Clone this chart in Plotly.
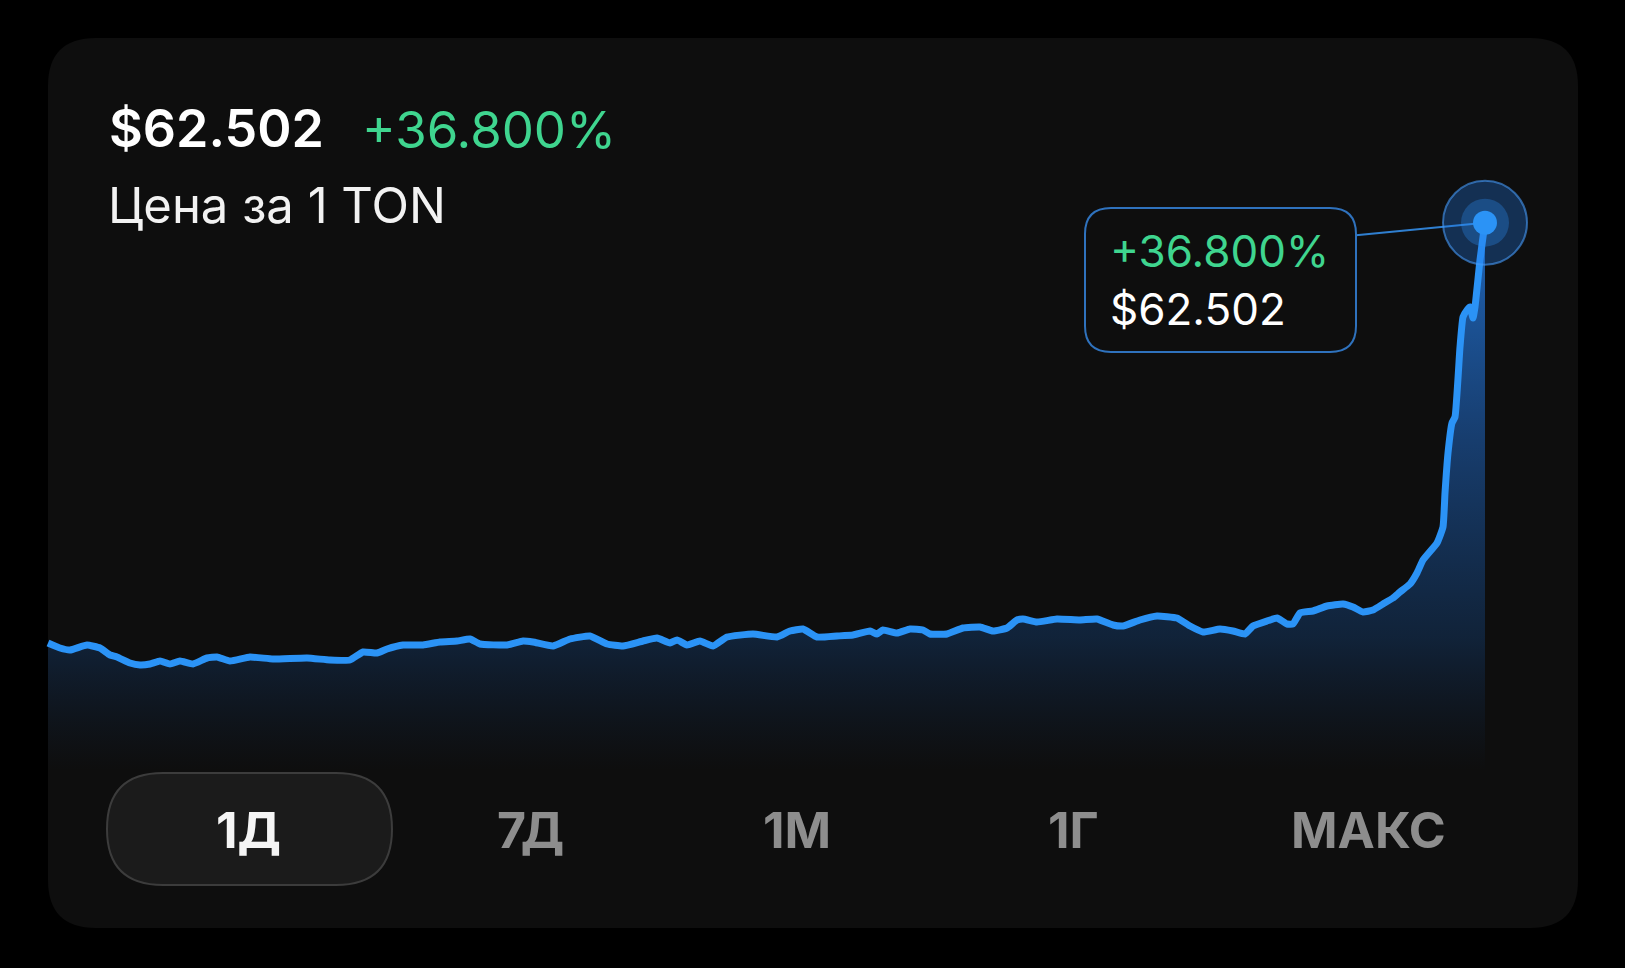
import plotly.graph_objects as go

# minutes since the start of the 1-day window, and TON price in USD
minutes = [0, 12, 22, 39, 52, 62, 69, 82, 92, 102, 112, 122, 132, 145, 159, 169, 182,
           202, 225, 259, 282, 302, 315, 329, 339, 355, 375, 392, 409, 422, 432, 459,
           475, 485, 505, 522, 542, 559, 575, 595, 609, 622, 629, 639, 652, 665, 679,
           705, 729, 742, 755, 769, 789, 805, 822, 829, 835, 849, 862, 875, 882, 899,
           915, 932, 945, 959, 969, 975, 989, 1009, 1032, 1049, 1065, 1075, 1092, 1109,
           1129, 1142, 1155, 1172, 1185, 1197, 1205, 1219, 1229, 1239, 1245, 1252, 1265,
           1279, 1295, 1305, 1315, 1325, 1335, 1345, 1352, 1362, 1369, 1375, 1389, 1395,
           1397, 1400, 1404, 1407, 1412, 1415, 1419, 1422, 1425, 1427, 1432, 1435, 1437]
prices = [45.69, 45.49, 45.41, 45.61, 45.49, 45.21, 45.13, 44.89, 44.81, 44.85, 44.97,
          44.85, 44.97, 44.85, 45.09, 45.13, 44.97, 45.13, 45.05, 45.09, 45.01, 45.01,
          45.33, 45.29, 45.45, 45.61, 45.61, 45.73, 45.77, 45.85, 45.65, 45.61, 45.77,
          45.73, 45.57, 45.85, 45.97, 45.65, 45.57, 45.77, 45.89, 45.69, 45.81, 45.61,
          45.77, 45.57, 45.93, 46.05, 45.93, 46.17, 46.25, 45.93, 45.97, 46.01, 46.17,
          46.05, 46.21, 46.09, 46.25, 46.21, 46.05, 46.05, 46.29, 46.33, 46.17, 46.29,
          46.61, 46.65, 46.53, 46.65, 46.61, 46.65, 46.41, 46.37, 46.61, 46.77, 46.69,
          46.37, 46.13, 46.25, 46.17, 46.05, 46.37, 46.57, 46.69, 46.45, 46.45, 46.89,
          46.97, 47.17, 47.25, 47.13, 46.93, 47.01, 47.25, 47.49, 47.73, 48.05, 48.49,
          49.01, 49.69, 50.33, 51.69, 53.29, 54.49, 54.73, 57.53, 58.73, 59.01, 59.13,
          58.69, 59.13, 61.01, 61.93, 62.502]

price_label = "$62.502"
change_label = "+36.800%"
subtitle = "Цена за 1 TON"
periods = ["1Д", "7Д", "1М", "1Г", "МАКС"]
selected = "1Д"

W, H = 1625, 968
GREEN = "#3fd58f"
BLUE = "#2b93f6"
FONT = "Inter"


def px(x):
    return x / W


def py(y):
    return 1 - y / H


def rounded_rect(x0, y0, x1, y1, r):
    # pixel box -> paper path with quadratic corners
    rx, ry = r / W, r / H
    a, b, c, d = px(x0), py(y0), px(x1), py(y1)
    return (f"M {a + rx},{b} L {c - rx},{b} Q {c},{b} {c},{b - ry} "
            f"L {c},{d + ry} Q {c},{d} {c - rx},{d} L {a + rx},{d} "
            f"Q {a},{d} {a},{d + ry} L {a},{b - ry} Q {a},{b} {a + rx},{b} Z")


fig = go.Figure()

fig.add_trace(go.Scatter(
    x=minutes, y=prices,
    mode='lines',
    line=dict(color=BLUE, width=7, shape='spline', smoothing=0.4),
    fill='tozeroy',
    fillgradient=dict(
        type='vertical',
        start=40.6, stop=62.5,
        colorscale=[[0, 'rgba(16,30,50,0)'],
                    [0.24, 'rgba(17,38,64,0.85)'],
                    [0.6, 'rgba(24,66,120,0.9)'],
                    [1, 'rgba(32,104,190,0.95)']],
    ),
    hoverinfo='skip',
))

# halo + dot on the latest point
fig.add_trace(go.Scatter(
    x=minutes[-1:], y=prices[-1:], mode='markers',
    marker=dict(size=84, color='rgba(35,120,230,0.32)',
                line=dict(color='rgba(70,155,250,0.6)', width=2)),
    hoverinfo='skip',
))
fig.add_trace(go.Scatter(
    x=minutes[-1:], y=prices[-1:], mode='markers',
    marker=dict(size=48, color='rgba(45,145,250,0.3)', line=dict(width=0)),
    hoverinfo='skip',
))
fig.add_trace(go.Scatter(
    x=minutes[-1:], y=prices[-1:], mode='markers',
    marker=dict(size=24, color=BLUE, line=dict(width=0)),
    hoverinfo='skip',
))

shapes = [
    dict(type='path', path=rounded_rect(48, 38, 1578, 928, 48), xref='paper', yref='paper',
         fillcolor='#0e0e0e', line=dict(width=0), layer='below'),
    dict(type='path', path=rounded_rect(107, 773, 392, 885, 56), xref='paper', yref='paper',
         fillcolor='#1b1b1b', line=dict(color='#3c3c3c', width=2), layer='below'),
    # connector from the tooltip box to the latest point
    dict(type='line', xref='x', yref='y', x0=1308, y0=62.0, x1=minutes[-1], y1=prices[-1],
         line=dict(color='#2f7fd0', width=2), layer='below'),
    dict(type='path', path=rounded_rect(1085, 208, 1356, 352, 26), xref='paper', yref='paper',
         fillcolor='#0e0e0e', line=dict(color='#2f72bd', width=2), layer='above'),
]

annotations = [
    dict(text=price_label, x=px(107), y=py(128), font=dict(size=52, color='#ffffff', weight=600)),
    dict(text=change_label, x=px(360), y=py(130), font=dict(size=51, color=GREEN)),
    dict(text=subtitle, x=px(106), y=py(205), font=dict(size=49, color='#f2f2f2')),
    dict(text=change_label, x=px(1108), y=py(251), font=dict(size=44, color=GREEN)),
    dict(text=price_label, x=px(1108), y=py(309), font=dict(size=44, color='#ffffff')),
]
for a in annotations:
    a.update(xref='paper', yref='paper', xanchor='left', yanchor='middle', showarrow=False)
    a['font'].setdefault('family', FONT)

period_x = [248, 530, 797, 1073, 1368]
for label, x in zip(periods, period_x):
    annotations.append(dict(
        text=label, x=px(x), y=py(830), xref='paper', yref='paper',
        xanchor='center', yanchor='middle', showarrow=False,
        font=dict(family=FONT, size=50, weight=700,
                  color='#f5f5f5' if label == selected else '#8d8d8d'),
    ))

fig.update_layout(
    width=W, height=H,
    margin=dict(l=0, r=0, t=0, b=0),
    paper_bgcolor='#000000',
    plot_bgcolor='rgba(0,0,0,0)',
    showlegend=False,
    shapes=shapes,
    annotations=annotations,
    xaxis=dict(range=[-48, 1577], visible=False, fixedrange=True),
    yaxis=dict(range=[32.69, 71.41], visible=False, fixedrange=True),
)

fig.write_html("out.html", config={'displayModeBar': False},
               post_script="document.body.style.margin='0';document.body.style.background='#000';")
